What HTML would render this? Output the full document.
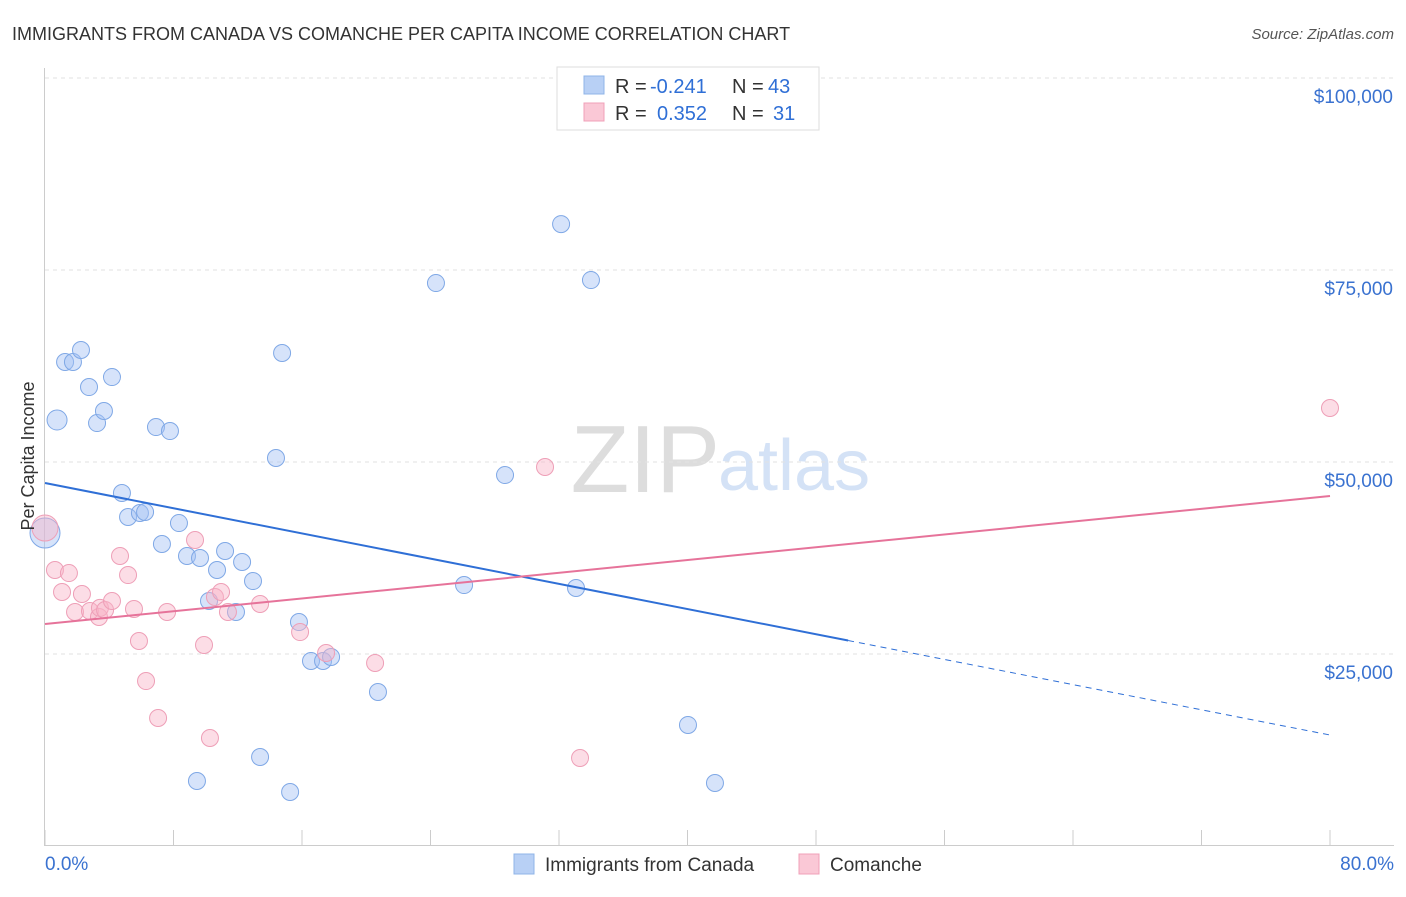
<!DOCTYPE html>
<html><head><meta charset="utf-8"><style>
body{margin:0;background:#fff;font-family:"Liberation Sans",sans-serif;}
svg text{font-family:"Liberation Sans",sans-serif;}
</style></head><body>
<svg id="chart" width="1406" height="892" xmlns="http://www.w3.org/2000/svg">
<text x="12" y="40" font-size="18" fill="#333">IMMIGRANTS FROM CANADA VS COMANCHE PER CAPITA INCOME CORRELATION CHART</text>
<text x="1394" y="39" font-size="15" fill="#555" text-anchor="end" font-style="italic">Source: ZipAtlas.com</text>
<text x="720" y="492" font-size="96" fill="#ddd" text-anchor="end" font-family="Liberation Serif">ZIP</text>
<text x="718" y="490" font-size="72" fill="#d4e2f6">atlas</text>
<g id="grid"></g>
<g id="axes"></g>
<g id="marks"></g>
<text x="34" y="456" font-size="18" fill="#333" text-anchor="middle" transform="rotate(-90 34 456)">Per Capita Income</text>
<g>
<rect x="557" y="67" width="262" height="63" fill="#fff" stroke="#ddd"/>
<rect x="584" y="76" width="20" height="18" fill="#b8d0f5" stroke="#8fb4e8"/>
<text x="615" y="93" font-size="20" fill="#333">R = </text><text x="650" y="93" font-size="20" fill="#2f6fd6">-0.241</text>
<text x="732" y="93" font-size="20" fill="#333">N = </text><text x="768" y="93" font-size="20" fill="#2f6fd6">43</text>
<rect x="584" y="103" width="20" height="18" fill="#fac8d6" stroke="#f0a0b8"/>
<text x="615" y="120" font-size="20" fill="#333">R = </text><text x="657" y="120" font-size="20" fill="#2f6fd6">0.352</text>
<text x="732" y="120" font-size="20" fill="#333">N = </text><text x="773" y="120" font-size="20" fill="#2f6fd6">31</text>
</g>
<g>
<rect x="514" y="854" width="20" height="20" fill="#b8d0f5" stroke="#8fb4e8"/>
<text x="545" y="871" font-size="19" fill="#333">Immigrants from Canada</text>
<rect x="799" y="854" width="20" height="20" fill="#fac8d6" stroke="#f0a0b8"/>
<text x="830" y="871" font-size="19" fill="#333">Comanche</text>
</g>
</svg>
<script>
const blueX=[0,0.75,1.25,1.74,2.24,2.74,3.24,3.67,4.17,4.79,5.17,5.91,6.23,6.91,7.78,7.28,8.34,8.84,9.65,10.71,11.21,12.27,12.95,10.21,11.89,14.38,14.76,15.81,16.56,17.31,17.81,20.73,24.34,28.64,32.13,33.99,26.09,33.06,40.03,41.71,9.46,13.39,15.26];
const blueY=[40750,55470,63020,63020,64580,59760,55070,56640,61060,45960,42840,43360,43490,54550,54030,39320,42050,37760,37500,35940,38410,36980,34500,31900,30470,50520,64190,29160,24090,24090,24610,20050,73300,48300,80980,73690,33980,33590,15760,8200,8460,11590,7030];
const pinkX=[0,0.62,1.06,1.49,1.87,2.30,2.80,3.36,3.42,3.74,4.17,4.67,5.17,5.54,5.85,6.29,7.04,7.60,9.34,9.90,10.27,10.58,10.96,11.39,13.39,15.88,17.50,20.55,31.13,33.31,80];
const pinkY=[41400,35940,33070,35540,30470,32810,30600,29820,31000,30730,31900,37760,35280,30860,26690,21480,16670,30470,39840,26170,14060,32420,33070,30470,31510,27860,25130,23830,49350,11460,57030];
const yTicks=[25000,50000,75000,100000];
const xTickLabels=["0.0%","80.0%"];
const blueTrend=[47260,14450]; // at x=0 and x=80
const pinkTrend=[28900,45570];
const blueSolidEnd=50;

const NS="http://www.w3.org/2000/svg";
const sx=v=>45+v*1285/80;
const sy=v=>846-v*192/25000;
function mk(tag,attrs,parent){const e=document.createElementNS(NS,tag);for(const k in attrs)e.setAttribute(k,attrs[k]);parent.appendChild(e);return e;}
const grid=document.getElementById('grid'),axes=document.getElementById('axes'),marks=document.getElementById('marks');
yTicks.forEach(t=>{
 const l=mk('line',{x1:45,x2:1394,y1:sy(t),y2:sy(t),stroke:'#e2e2e2','stroke-dasharray':'4,4'},grid);
 
 
 const tx=mk('text',{x:1393,y:sy(t)+25,'font-size':19,fill:'#3a72d0','text-anchor':'end'},axes);
 tx.textContent='$'+t.toLocaleString('en-US');
 
 
});
mk('line',{x1:45,x2:1394,y1:78,y2:78,stroke:'#e2e2e2','stroke-dasharray':'4,4'},grid);
const ya=mk('line',{x1:44.5,x2:44.5,y1:68,y2:846,stroke:'#ccc'},axes);


const xa=mk('line',{x1:45,x2:1394,y1:845.5,y2:845.5,stroke:'#ccc'},axes);


for(let i=0;i<=10;i++){const t=mk('line',{x1:sx(i*8),x2:sx(i*8),y1:830,y2:846,stroke:'#ccc'},axes);
 
 }
[[0,'start',45],[80,'end',1394]].forEach((d,i)=>{const t=mk('text',{x:d[2],y:870,'font-size':19,fill:'#3a72d0','text-anchor':d[1]},axes);t.textContent=xTickLabels[i];
 
 });
blueX.forEach((x,i)=>{const big=i===0?15:(i===1?10:8.5);
 const c=mk('circle',{cx:sx(x),cy:sy(blueY[i]),r:big,fill:'rgba(164,194,244,0.45)',stroke:'#7fa8e6','stroke-width':1},marks);
 
 });
pinkX.forEach((x,i)=>{const big=i===0?13:8.5;
 const c=mk('circle',{cx:sx(x),cy:sy(pinkY[i]),r:big,fill:'rgba(248,180,200,0.45)',stroke:'#ee9fb7','stroke-width':1},marks);
 
 });
const bAt=x=>blueTrend[0]+(blueTrend[1]-blueTrend[0])*x/80;
const bl=mk('line',{x1:sx(0),y1:sy(bAt(0)),x2:sx(blueSolidEnd),y2:sy(bAt(blueSolidEnd)),stroke:'#2f6fd6','stroke-width':2},marks);


const bd=mk('line',{x1:sx(blueSolidEnd),y1:sy(bAt(blueSolidEnd)),x2:sx(80),y2:sy(bAt(80)),stroke:'#2f6fd6','stroke-width':1,'stroke-dasharray':'6,5'},marks);


const pl=mk('line',{x1:sx(0),y1:sy(pinkTrend[0]),x2:sx(80),y2:sy(pinkTrend[1]),stroke:'#e6739a','stroke-width':2},marks);


</script>
</body></html>
